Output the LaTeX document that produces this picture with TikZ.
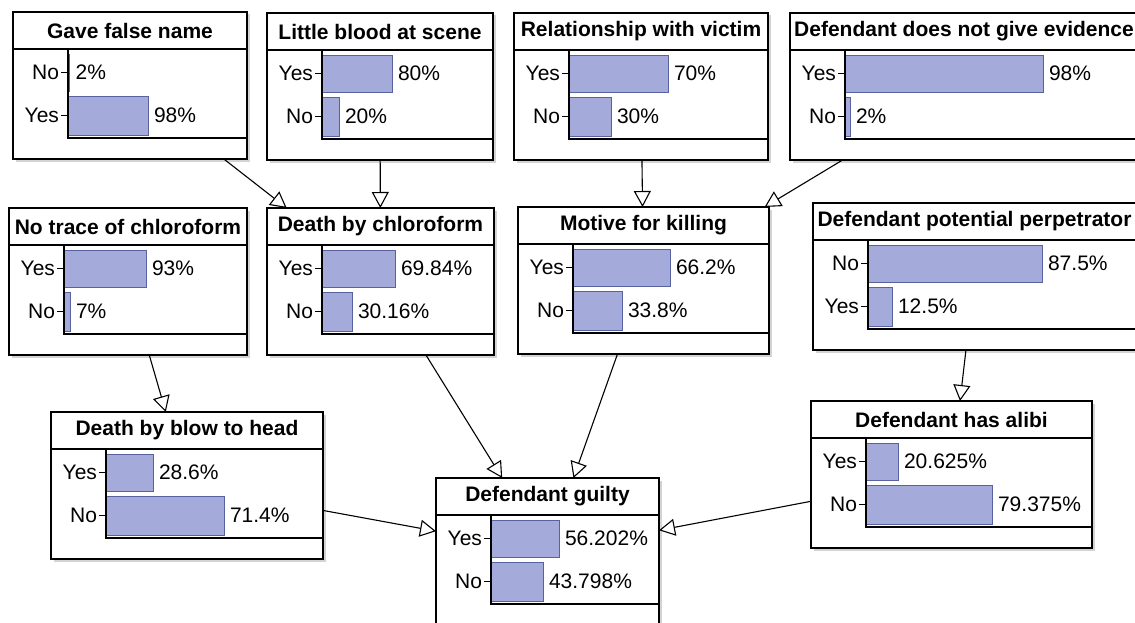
\documentclass[tikz,border=0pt]{standalone}
\usepackage{fontspec}
\setmainfont{Liberation Sans}
\usepackage{tikz}
\usepackage{xcolor}
\usetikzlibrary{arrows.meta,calc,shadows}

\definecolor{barfill}{RGB}{164,171,218}
\definecolor{barline}{RGB}{88,98,158}

% #1 box node, #2 title, #3-#5 first state (label, bar length, value), #6-#8 second state
\newcommand{\probtable}[8]{%
  \node (#1-title) at ($(#1.north)+(0,18.5)$) {\bfseries #2};
  \draw ($(#1.north west)+(0,37)$) -- ($(#1.north east)+(0,37)$);
  \draw[bar] ($(#1.north west)+(55,42)$) rectangle ++(#4,37);
  \draw[bar] ($(#1.north west)+(55,84)$) rectangle ++(#7,39);
  \draw ($(#1.north west)+(55,37)$) |- ($(#1.north east)+(0,126)$);
  \draw ($(#1.north west)+(48,60.5)$) node[left] (#1-s1) {#3} -- ++(7,0);
  \draw ($(#1.north west)+(48,103.5)$) node[left] (#1-s2) {#6} -- ++(7,0);
  \node[right] (#1-v1) at ($(#1.north west)+(59+#4,60.5)$) {#5};
  \node[right] (#1-v2) at ($(#1.north west)+(59+#7,103.5)$) {#8};
}

\begin{document}
\begin{tikzpicture}[x=1pt, y=-1pt, line width=1.1pt, inner sep=1.5pt,
  font=\fontsize{21}{25}\selectfont,
  >={Triangle[open, length=16pt, width=17pt]},
  box/.style={draw, fill=white, anchor=north west, minimum height=147pt,
    inner sep=0pt, outer sep=0pt,
    drop shadow={shadow xshift=2.5pt, shadow yshift=-2.5pt, opacity=0.35}},
  bar/.style={draw=barline, fill=barfill, line width=0.7pt}]
\useasboundingbox (0,0) rectangle (1135,623);
\clip (0,0) rectangle (1135,623);

% top row
\node[box, minimum width=234pt] (gave) at (13,12) {};
\node[box, minimum width=226pt] (blood) at (267,13) {};
\node[box, minimum width=254pt] (relation) at (514,13) {};
\node[box, minimum width=348pt] (evidence) at (790,13) {};

% middle row
\node[box, minimum width=238pt] (notrace) at (9,208) {};
\node[box, minimum width=227pt] (chloro) at (267,208) {};
\node[box, minimum width=251pt] (motive) at (518,207) {};
\node[box, minimum width=323pt] (perp) at (813,203) {};

% bottom row
\node[box, minimum width=272pt] (blow) at (51,412) {};
\node[box, minimum width=281pt] (alibi) at (811,401) {};
\node[box, minimum width=223pt] (guilty) at (436,478) {};

% links
\draw[->] (gave) -- (chloro);
\draw[->] (blood) -- (chloro);
\draw[->] (relation) -- (motive);
\draw[->] (evidence) -- (motive);
\draw[->] (notrace) -- (blow);
\draw[->] (chloro) -- (guilty);
\draw[->] (motive) -- (guilty);
\draw[->] (perp) -- (alibi);
\draw[->] (blow) -- (guilty);
\draw[->] (alibi) -- (guilty);

% tables
\probtable{gave}{Gave false name}{No}{1.6}{2\%}{Yes}{80}{98\%}
\probtable{blood}{Little blood at scene}{Yes}{70}{80\%}{No}{17}{20\%}
\probtable{relation}{Relationship with victim}{Yes}{99}{70\%}{No}{42}{30\%}
\probtable{evidence}{Defendant does not give evidence}{Yes}{198}{98\%}{No}{5}{2\%}
\probtable{notrace}{No trace of chloroform}{Yes}{82}{93\%}{No}{6}{7\%}
\probtable{chloro}{Death by chloroform}{Yes}{73}{69.84\%}{No}{30}{30.16\%}
\probtable{motive}{Motive for killing}{Yes}{97}{66.2\%}{No}{49}{33.8\%}
\probtable{perp}{Defendant potential perpetrator}{No}{174}{87.5\%}{Yes}{24}{12.5\%}
\probtable{blow}{Death by blow to head}{Yes}{47}{28.6\%}{No}{118}{71.4\%}
\probtable{alibi}{Defendant has alibi}{Yes}{32}{20.625\%}{No}{126}{79.375\%}
\probtable{guilty}{Defendant guilty}{Yes}{68}{56.202\%}{No}{52}{43.798\%}
\end{tikzpicture}
\end{document}
